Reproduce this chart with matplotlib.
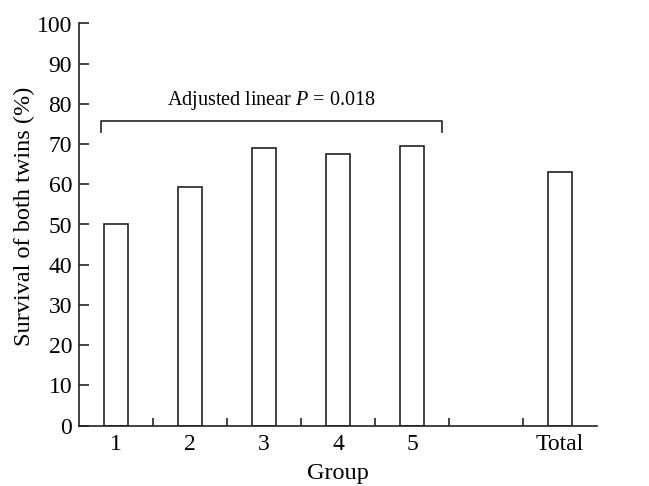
import numpy as np
import matplotlib.pyplot as plt

plt.rcParams['font.family'] = ['Liberation Serif', 'DejaVu Serif']
plt.rcParams['mathtext.fontset'] = 'custom'
plt.rcParams['mathtext.rm'] = 'Liberation Serif'
plt.rcParams['mathtext.it'] = 'Liberation Serif:italic'

groups = ['1', '2', '3', '4', '5', 'Total']
positions = [1, 2, 3, 4, 5, 7]
survival = [50.0, 59.4, 69.0, 67.6, 69.6, 63.1]

fig = plt.figure(figsize=(6.49, 4.86), dpi=100)
ax = fig.add_axes([79 / 649, 1 - 425.5 / 486, 518 / 649, 402 / 486])

ax.bar(positions, survival, width=0.32, color='white', edgecolor='#222222', linewidth=1.2)

ax.set_xlim(0.5, 7.5)
ax.set_ylim(0, 100)
ax.spines['top'].set_visible(False)
ax.spines['right'].set_visible(False)
for s in ['left', 'bottom']:
    ax.spines[s].set_linewidth(1.2)
    ax.spines[s].set_color('#222222')

ax.set_yticks(np.arange(0, 101, 10))
ax.tick_params(axis='y', direction='in', length=7.5, width=1.2, labelsize=17, pad=5, color='#222222')

# group labels without ticks, separator ticks between groups
ax.set_xticks(positions)
ax.set_xticklabels(groups)
ax.tick_params(axis='x', length=0, labelsize=17, pad=6)
ax.set_xticks([1.5, 2.5, 3.5, 4.5, 5.5, 6.5], minor=True)
ax.tick_params(axis='x', which='minor', direction='in', length=6, width=1.2, color='#222222')

ax.set_xlabel('Group', fontsize=17.5, labelpad=6)
ax.set_ylabel('Survival of both twins (%)', fontsize=17.5)
ax.yaxis.set_label_coords(-0.085, 0.521)

# bracket for trend test
bx0, bx1, by, bdrop = 0.8, 5.4, 75.7, 2.6
ax.plot([bx0, bx0, bx1, bx1], [by - bdrop, by, by, by - bdrop], color='#222222', linewidth=1.2)
ax.text((bx0 + bx1) / 2, by + 2.3, 'Adjusted linear $\\it{P}$ = 0.018', ha='center', va='bottom', fontsize=14.5)

fig.savefig('out.png', dpi=100)
